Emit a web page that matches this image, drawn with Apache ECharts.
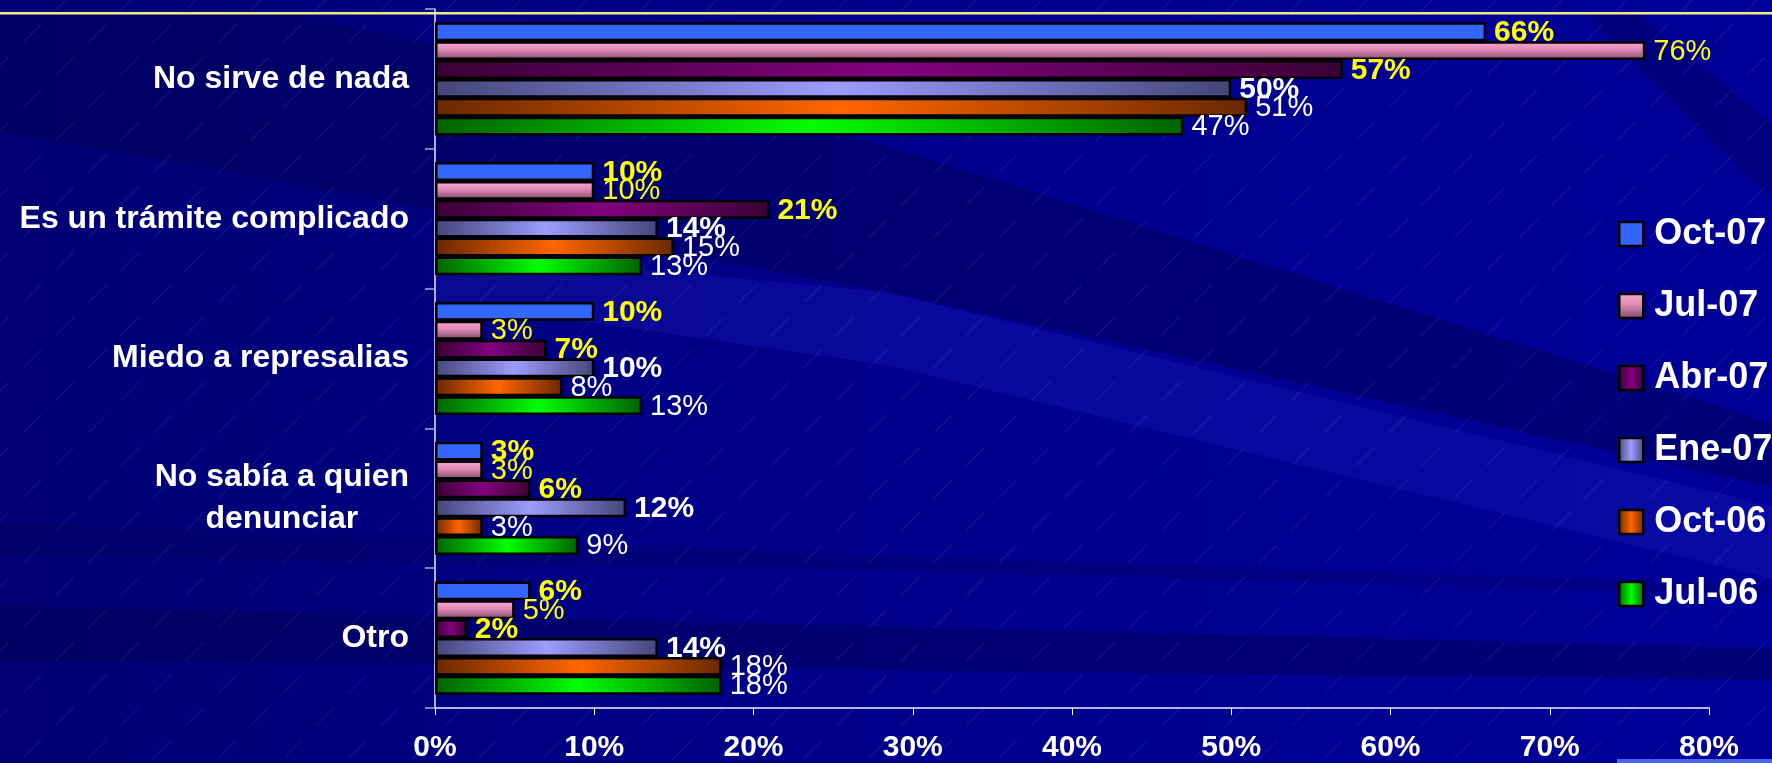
<!DOCTYPE html>
<html>
<head>
<meta charset="utf-8">
<script src="https://cdn.jsdelivr.net/npm/echarts@6/dist/echarts.min.js"></script>
<style>
  html, body { margin: 0; padding: 0; width: 1772px; height: 763px; overflow: hidden; background: #00008C; }
  #bg { position: absolute; left: 0; top: 0; width: 1772px; height: 763px; }
  #chart { position: absolute; left: 0; top: 0; width: 1772px; height: 763px; }
</style>
</head>
<body>
<svg id="bg" width="1772" height="763" xmlns="http://www.w3.org/2000/svg">
  <defs>
    <linearGradient id="base" x1="0" y1="0" x2="1" y2="0">
      <stop offset="0" stop-color="#000074"/>
      <stop offset="0.5" stop-color="#00008C"/>
      <stop offset="1" stop-color="#000098"/>
    </linearGradient>
    <pattern id="dash" width="46" height="46" patternUnits="userSpaceOnUse" patternTransform="rotate(45)">
      <line x1="0" y1="0" x2="0" y2="46" stroke="#ffffff" stroke-width="0.8" stroke-dasharray="14 20" opacity="0.2"/>
    </pattern>
  </defs>
  <rect x="0" y="0" width="1772" height="763" fill="url(#base)"/>
  <polygon points="0,15 300,15 886,146 1772,423 1772,487 886,292 0,131" fill="#00004A" opacity="0.38"/>
  <polygon points="435,250 886,292 1772,506 1772,579 886,365 435,300" fill="#2828D0" opacity="0.22"/>
  <polygon points="0,522 886,556 1772,585 1772,595 886,570 0,555" fill="#00004A" opacity="0.22"/>
  <polygon points="0,605 1772,648 1772,680 0,660" fill="#00004A" opacity="0.4"/>
  <polygon points="1585,15 1640,15 1772,125 1772,200" fill="#00004A" opacity="0.3"/>
  <rect x="0" y="0" width="1772" height="763" fill="url(#dash)"/>
  <rect x="0" y="12" width="1772" height="2.5" fill="#EDED8A"/>
  <rect x="1617" y="759" width="155" height="4" fill="#4A66EE"/>
</svg>
<div id="chart"></div>
<script>
// ---- data ----
const categories = ['No sirve de nada', 'Es un trámite complicado', 'Miedo a represalias', 'No sabía a quien\ndenunciar', 'Otro'];
const seriesNames = ['Oct-07', 'Jul-07', 'Abr-07', 'Ene-07', 'Oct-06', 'Jul-06'];
const oct07 = [66, 10, 10, 3, 6];
const jul07 = [76, 10, 3, 3, 5];
const abr07 = [57, 21, 7, 6, 2];
const ene07 = [50, 14, 10, 12, 14];
const oct06 = [51, 15, 8, 3, 18];
const jul06 = [47, 13, 13, 9, 18];
const axisMax = 80;
const axisStep = 10;

const seriesValues = [oct07, jul07, abr07, ene07, oct06, jul06];

// ---- styles ----
function hGrad(edge, mid) {
  return new echarts.graphic.LinearGradient(0, 0, 1, 0, [
    { offset: 0, color: edge }, { offset: 0.5, color: mid }, { offset: 1, color: edge }
  ]);
}
const barFills = [
  '#3366FF',
  new echarts.graphic.LinearGradient(0, 0, 0, 1, [
    { offset: 0, color: '#FFAAD6' }, { offset: 0.45, color: '#E088B6' }, { offset: 1, color: '#7A4A66' }
  ]),
  hGrad('#3A0036', '#82007E'),
  hGrad('#45457A', '#9C9CFF'),
  hGrad('#6A2800', '#FF6600'),
  hGrad('#006200', '#00FF00')
];
const FONT = '"Liberation Sans", Arial, sans-serif';
const NARROW = '"Liberation Sans Narrow", "Arial Narrow", "Liberation Sans", Arial, sans-serif';
const labelStyles = [
  { color: '#FFFF00', fontWeight: 'bold', fontSize: 30, fontFamily: FONT },
  { color: '#FFFF00', fontWeight: 'normal', fontSize: 29, fontFamily: NARROW },
  { color: '#FFFF00', fontWeight: 'bold', fontSize: 30, fontFamily: FONT },
  { color: '#FFFFFF', fontWeight: 'bold', fontSize: 30, fontFamily: FONT },
  { color: '#FFFFFF', fontWeight: 'normal', fontSize: 29, fontFamily: NARROW },
  { color: '#FFFFFF', fontWeight: 'normal', fontSize: 29, fontFamily: NARROW }
];

const chart = echarts.init(document.getElementById('chart'), null, { renderer: 'canvas' });

const series = seriesNames.map((name, i) => ({
  name: name,
  type: 'bar',
  data: seriesValues[i],
  barGap: '0%',
  barCategoryGap: '19%',
  itemStyle: { color: barFills[i], borderColor: '#000000', borderWidth: 2.5 },
  label: Object.assign({
    show: true,
    position: 'right',
    distance: 8,
    offset: [0, 1],
    formatter: '{c}%'
  }, labelStyles[i]),
  emphasis: { disabled: true },
  animation: false
}));

chart.setOption({
  backgroundColor: 'transparent',
  animation: false,
  grid: { left: 435, right: 63, top: 9, bottom: 51, containLabel: false },
  legend: {
    orient: 'vertical',
    left: 1613,
    top: 211,
    data: seriesNames,
    icon: 'rect',
    itemWidth: 24,
    itemHeight: 24,
    itemGap: 36,
    itemStyle: { borderColor: '#000000', borderWidth: 2.5 },
    textStyle: { color: '#FFFFFF', fontSize: 36, fontWeight: 'bold', fontFamily: FONT, lineHeight: 36, padding: [0, 0, 0, 6] },
    selectedMode: false
  },
  xAxis: {
    type: 'value',
    min: 0,
    max: axisMax,
    interval: axisStep,
    axisLine: { show: true, lineStyle: { color: '#B4B4E4', width: 2 } },
    axisTick: { show: true, length: 7, lineStyle: { color: '#FFFFFF', width: 1 } },
    splitLine: { show: false },
    axisLabel: { formatter: '{value}%', color: '#FFFFFF', fontSize: 30, fontWeight: 'bold', fontFamily: FONT, margin: 25 }
  },
  yAxis: {
    type: 'category',
    inverse: true,
    data: categories,
    axisLine: { show: true, lineStyle: { color: '#E8E8FF', width: 1.5 } },
    axisTick: { show: true, length: 10, lineStyle: { color: '#A8A8D8', width: 1.5 } },
    axisLabel: {
      color: '#FFFFFF',
      fontSize: 32,
      fontWeight: 'bold',
      fontFamily: FONT,
      margin: 26,
      formatter: function (v) {
        if (v.indexOf('\n') >= 0) {
          return v.split('\n').map(s => '{c|' + s + '}').join('\n');
        }
        return v;
      },
      rich: {
        c: { align: 'center', color: '#FFFFFF', fontSize: 32, fontWeight: 'bold', fontFamily: FONT, lineHeight: 42 }
      }
    }
  },
  series: series
});
</script>
</body>
</html>
